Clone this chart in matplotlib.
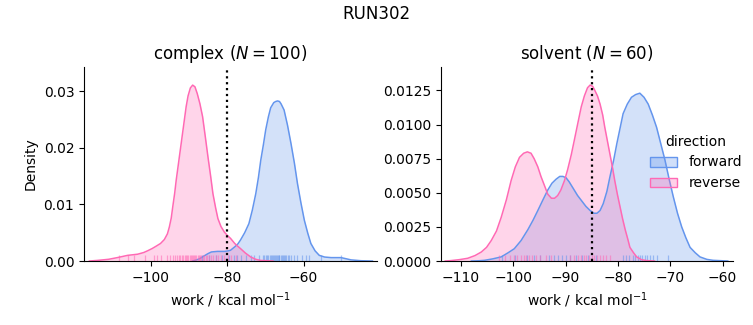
import matplotlib
matplotlib.use("Agg")
import matplotlib.pyplot as plt
from matplotlib.patches import Patch
import matplotlib.transforms as mtransforms

# ---------------- data ----------------
title = "RUN302"
phases = ["complex", "solvent"]
n_samples = [100, 60]
directions = ["forward", "reverse"]
dg_markers = [-80.0, -85.0]

# complex: KDE curves (work, density)
cx_fwd_x = [-89.0, -88.0, -87.2, -86.0, -85.0, -84.1, -82.5, -80.7, -79.6, -79.1, -78.0, -77.2,
            -76.5, -75.4, -74.3, -73.4, -72.5, -71.8, -71.2, -70.5, -69.9, -69.2, -68.6, -67.8,
            -67.3, -66.8, -66.3, -65.9, -65.1, -64.2, -63.3, -62.4, -61.6, -60.7, -59.8, -58.9,
            -58.1, -57.0, -55.9, -54.5, -52.8, -51.5, -50.2, -48.9, -47.6, -45.0, -42.0]
cx_fwd_y = [0.0, 0.0002, 0.0004, 0.0009, 0.0013, 0.0016, 0.0017, 0.0017, 0.0018, 0.0019, 0.0025, 0.0030,
            0.0037, 0.0050, 0.0066, 0.0090, 0.0119, 0.0148, 0.0178, 0.0206, 0.0232, 0.0255, 0.0271, 0.0280,
            0.0282, 0.0283, 0.0282, 0.0278, 0.0267, 0.0240, 0.0208, 0.0173, 0.0137, 0.0103, 0.0072, 0.0049,
            0.0031, 0.0018, 0.0010, 0.0007, 0.0006, 0.0006, 0.0006, 0.0004, 0.0002, 0.00005, 0.0]
cx_rev_x = [-116.0, -114.0, -111.0, -108.7, -106.0, -103.4, -101.8, -100.8, -99.6, -98.6, -97.4,
            -96.4, -95.6, -95.1, -94.6, -94.2, -93.7, -93.3, -92.6, -92.0, -91.3, -90.7, -90.2,
            -89.6, -89.0, -88.4, -87.8, -87.1, -86.4, -85.7, -85.0, -84.3, -83.7, -83.0, -82.4,
            -81.6, -80.7, -79.9, -79.1, -78.0, -77.2, -76.5, -75.2, -73.8, -72.5, -71.2, -68.0]
cx_rev_y = [0.0, 0.0001, 0.0003, 0.0006, 0.0010, 0.0012, 0.0015, 0.0018, 0.0022, 0.0026, 0.0031,
            0.0038, 0.0048, 0.0060, 0.0076, 0.0096, 0.0120, 0.0143, 0.0178, 0.0208, 0.0243, 0.0273, 0.0292,
            0.0306, 0.0311, 0.0308, 0.0296, 0.0278, 0.0255, 0.0220, 0.0184, 0.0150, 0.0119, 0.0094, 0.0075,
            0.0061, 0.0051, 0.0045, 0.0040, 0.0031, 0.0026, 0.0022, 0.0014, 0.0007, 0.0003, 0.0001, 0.0]

# solvent: KDE curves
sv_fwd_x = [-108.0, -106.5, -105.5, -104.0, -102.3, -101.0, -99.8, -98.5, -97.2, -96.2, -95.3,
            -94.3, -93.4, -92.6, -91.8, -91.1, -90.5, -89.9, -89.3, -88.5, -87.7, -86.9, -86.1,
            -85.3, -84.6, -84.0, -83.4, -82.8, -82.1, -81.5, -80.8, -80.2, -79.6, -79.0, -78.2,
            -77.4, -76.6, -75.8, -75.0, -74.2, -73.4, -72.6, -71.8, -71.0, -70.2, -69.4, -68.6,
            -67.8, -67.0, -66.2, -65.2, -64.3, -63.0, -61.8, -59.0]
sv_fwd_y = [0.0, 0.00002, 0.00005, 0.00015, 0.0003, 0.0006, 0.0009, 0.0015, 0.0023, 0.0030, 0.0037,
            0.0045, 0.0052, 0.0057, 0.0060, 0.0062, 0.0062, 0.0061, 0.0058, 0.0053, 0.0048, 0.0044, 0.0040,
            0.0037, 0.0035, 0.0035, 0.0037, 0.0042, 0.0051, 0.0062, 0.0074, 0.0086, 0.0097, 0.0108, 0.0115,
            0.0120, 0.0122, 0.0123, 0.0120, 0.0115, 0.0107, 0.0098, 0.0086, 0.0074, 0.0060, 0.0047, 0.0035,
            0.0025, 0.0017, 0.0010, 0.0006, 0.0003, 0.00012, 0.00005, 0.0]
sv_rev_x = [-113.0, -111.9, -110.3, -108.7, -107.3, -106.1, -105.1, -104.2, -103.2, -102.3, -101.3,
            -100.4, -99.6, -98.8, -98.0, -97.3, -96.6, -96.0, -95.3, -94.7, -94.0, -93.4, -92.7,
            -92.1, -91.5, -90.9, -90.2, -89.6, -88.9, -88.3, -87.6, -87.0, -86.4, -85.8, -85.3,
            -84.8, -84.4, -83.9, -83.4, -82.9, -82.5, -82.0, -81.5, -81.0, -80.6, -80.1, -79.6,
            -79.1, -78.6, -78.1, -77.7, -77.0, -76.4, -75.5, -74.5, -73.0]
sv_rev_y = [0.0, 0.00003, 0.0001, 0.0002, 0.0004, 0.00066, 0.0010, 0.0015, 0.0022, 0.0032, 0.0045,
            0.0059, 0.0069, 0.0076, 0.0079, 0.0080, 0.0079, 0.0075, 0.0069, 0.0062, 0.0055, 0.0049, 0.0046,
            0.0046, 0.0048, 0.0052, 0.0059, 0.0067, 0.0078, 0.0089, 0.0102, 0.0113, 0.0121, 0.0127, 0.0129,
            0.0128, 0.0125, 0.0121, 0.0115, 0.0107, 0.0098, 0.0088, 0.0078, 0.0068, 0.0059, 0.0049, 0.0040,
            0.0031, 0.0023, 0.0016, 0.0010, 0.0006, 0.0003, 0.0001, 0.00003, 0.0]

# rug samples (work values)
cx_fwd_rug = [-86.5, -84.8, -82.9, -81.2, -79.6, -78.3, -77.3, -76.4, -75.1, -73.8, -72.9,
              -71.6, -70.7, -70.3, -69.9, -69.5, -69.2, -68.9, -68.6, -68.3, -68.0, -67.8,
              -67.5, -67.3, -67.0, -66.8, -66.5, -66.3, -66.0, -65.7, -65.4, -65.1, -64.8,
              -64.5, -64.1, -63.8, -63.3, -62.4, -61.6, -60.3, -59.4, -58.5, -55.4, -50.2]
cx_rev_rug = [-108.2, -105.9, -104.4, -101.5, -99.0, -98.2, -97.3, -95.8, -94.9, -94.1, -93.5,
              -93.0, -92.6, -92.2, -91.8, -91.4, -91.0, -90.7, -90.4, -90.1, -89.8, -89.5,
              -89.2, -88.9, -88.6, -88.3, -88.0, -87.7, -87.4, -87.1, -86.8, -86.4, -86.0,
              -85.6, -85.2, -84.7, -84.2, -83.6, -83.0, -82.3, -81.6, -80.8, -79.8, -78.9, -77.6]
sv_fwd_rug = [-102.1, -99.6, -97.4, -96.0, -94.8, -93.1, -92.3, -91.5, -90.6, -89.9, -89.1,
              -88.0, -86.9, -85.7, -84.2, -79.0, -78.4, -77.8, -77.2, -76.7, -76.2, -75.8,
              -75.3, -74.9, -74.4, -73.9, -73.3, -72.6, -70.4]
sv_rev_rug = [-102.8, -101.6, -100.7, -99.9, -99.2, -98.6, -98.0, -97.5, -97.0, -96.4, -95.7,
              -94.9, -93.8, -92.7, -89.2, -88.4, -87.7, -87.1, -86.5, -86.0, -85.5, -85.0,
              -84.5, -84.0, -83.4, -82.8, -82.2, -81.5]

curves = {
    "complex": {"forward": (cx_fwd_x, cx_fwd_y, cx_fwd_rug),
                "reverse": (cx_rev_x, cx_rev_y, cx_rev_rug)},
    "solvent": {"forward": (sv_fwd_x, sv_fwd_y, sv_fwd_rug),
                "reverse": (sv_rev_x, sv_rev_y, sv_rev_rug)},
}

colors = {"forward": "#6495ED", "reverse": "#FF69B4"}

# ---------------- figure ----------------
fig = plt.figure(figsize=(7.53, 3.25), dpi=100)
ax_pos = [[0.1116, 0.1969, 0.3891, 0.5969], [0.5857, 0.1969, 0.3877, 0.5969]]
xlims = [(-117.4, -40.8), (-113.8, -58.0)]
ylims = [(0, 0.0343), (0, 0.01422)]
xticks = [[-100, -80, -60], [-110, -100, -90, -80, -70, -60]]
yticks = [[0.0, 0.01, 0.02, 0.03], [0.0, 0.0025, 0.005, 0.0075, 0.01, 0.0125]]
yfmt = ["{:.2f}", "{:.4f}"]

for i, phase in enumerate(phases):
    ax = fig.add_axes(ax_pos[i])
    for d in directions:
        xs, ys, rug = curves[phase][d]
        c = colors[d]
        ax.fill_between(xs, ys, 0, color=c, alpha=0.28, lw=0)
        ax.plot(xs, ys, color=c, lw=1.1, solid_joinstyle="round")
        trans = mtransforms.blended_transform_factory(ax.transData, ax.transAxes)
        ax.vlines(rug, 0, 0.03, transform=trans, color=c, lw=0.9, alpha=0.55)
    ax.axvline(dg_markers[i], color="black", ls=":", lw=1.6)
    ax.set_xlim(*xlims[i])
    ax.set_ylim(*ylims[i])
    ax.set_xticks(xticks[i])
    ax.set_xticklabels([f"{t:d}".replace("-", "\u2212") for t in xticks[i]])
    ax.set_yticks(yticks[i])
    ax.set_yticklabels([yfmt[i].format(t) for t in yticks[i]])
    ax.spines["top"].set_visible(False)
    ax.spines["right"].set_visible(False)
    ax.set_title(f"{phase} ($N = {n_samples[i]}$)", fontsize=12)
    ax.set_xlabel("work / kcal mol$^{-1}$", fontsize=10)
    if i == 0:
        ax.set_ylabel("Density", fontsize=10)

fig.suptitle(title, fontsize=12, y=0.985)

handles = [Patch(facecolor=matplotlib.colors.to_rgba(colors[d], 0.3),
                 edgecolor=colors[d], lw=1.0) for d in directions]
fig.legend(handles, directions, title="direction", loc="center left",
           bbox_to_anchor=(0.846, 0.5), frameon=False, fontsize=10, title_fontsize=10)

fig.savefig("out.png", dpi=100)
